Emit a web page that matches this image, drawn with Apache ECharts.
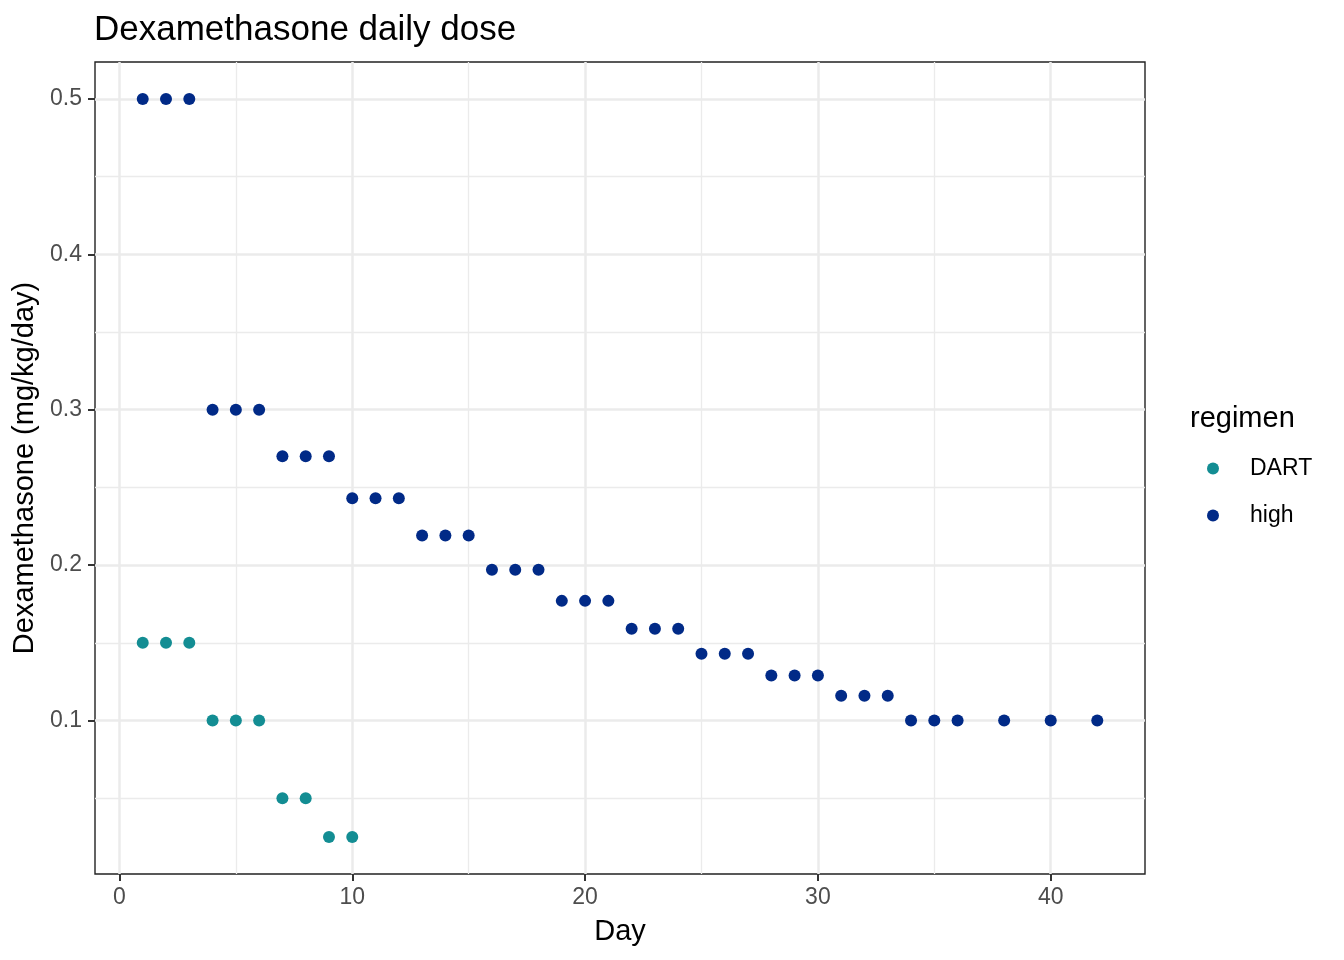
<!DOCTYPE html>
<html>
<head>
<meta charset="utf-8">
<script src="https://cdn.jsdelivr.net/npm/echarts@6/dist/echarts.min.js"></script>
<style>html,body{margin:0;padding:0;background:#fff}#c{width:1344px;height:960px}</style>
</head>
<body>
<div id="c"></div>
<script>
const titleText = 'Dexamethasone daily dose';
const xTitle = 'Day';
const yTitle = 'Dexamethasone (mg/kg/day)';
const legendTitle = 'regimen';
const seriesNames = ['DART', 'high'];
const seriesColors = ['#138d93', '#012a87'];

const dartDays = [1, 2, 3, 4, 5, 6, 7, 8, 9, 10];
const dartDose = [0.15, 0.15, 0.15, 0.1, 0.1, 0.1, 0.05, 0.05, 0.025, 0.025];

const highDays = [1, 2, 3, 4, 5, 6, 7, 8, 9, 10, 11, 12, 13, 14, 15, 16, 17, 18, 19, 20, 21, 22, 23, 24, 25, 26, 27, 28, 29, 30, 31, 32, 33, 34, 35, 36, 38, 40, 42];
const highDose = [0.5, 0.5, 0.5, 0.3, 0.3, 0.3, 0.27, 0.27, 0.27, 0.243, 0.243, 0.243, 0.219, 0.219, 0.219, 0.197, 0.197, 0.197, 0.177, 0.177, 0.177, 0.159, 0.159, 0.159, 0.143, 0.143, 0.143, 0.129, 0.129, 0.129, 0.116, 0.116, 0.116, 0.1, 0.1, 0.1, 0.1, 0.1, 0.1];

const xMajor = [0, 10, 20, 30, 40];
const xMinor = [5, 15, 25, 35];
const yMajor = [0.1, 0.2, 0.3, 0.4, 0.5];
const yMinor = [0.05, 0.15, 0.25, 0.35, 0.45];

const xRange = [-1.05, 44.05];
const yRange = [0.00125, 0.52375];

const font = 'Liberation Sans, Arial, Helvetica, sans-serif';

function pairs(xs, ys) { return xs.map((x, i) => [x, ys[i]]); }

const chart = echarts.init(document.getElementById('c'), null, {renderer: 'canvas'});
chart.setOption({
  animation: false,
  backgroundColor: '#ffffff',
  textStyle: {fontFamily: font},
  title: [
    {text: titleText, left: 89, top: 8, textStyle: {fontFamily: font, fontSize: 35, fontWeight: 'normal', color: '#000'}},
    {text: legendTitle, left: 1185, top: 399, textStyle: {fontFamily: font, fontSize: 29, fontWeight: 'normal', color: '#000'}}
  ],
  legend: {
    orient: 'vertical', left: 1207, top: 457, padding: 0,
    itemWidth: 12, itemHeight: 12, itemGap: 24, icon: 'circle',
    data: seriesNames,
    textStyle: {fontFamily: font, fontSize: 23, color: '#000', padding: [0, 0, 0, 26]}
  },
  grid: {left: 95, right: 199, top: 62, bottom: 86, show: true, borderColor: '#222222', borderWidth: 1.4, backgroundColor: 'transparent'},
  xAxis: [
    {
      type: 'value', min: xRange[0], max: xRange[1], gridIndex: 0,
      name: xTitle, nameLocation: 'middle', nameGap: 43,
      nameTextStyle: {fontFamily: font, fontSize: 29, color: '#000'},
      axisLine: {show: false, onZero: false},
      axisTick: {show: true, length: 7, lineStyle: {color: '#333', width: 2}, customValues: xMajor},
      axisLabel: {customValues: xMajor, fontFamily: font, fontSize: 23, color: '#4d4d4d', margin: 12},
      splitLine: {show: true, lineStyle: {color: '#ebebeb', width: 2.5}}
    },
    {
      type: 'value', min: xRange[0], max: xRange[1], gridIndex: 0, position: 'bottom',
      axisLine: {show: false, onZero: false},
      axisTick: {show: false, customValues: xMinor},
      axisLabel: {show: false, customValues: xMinor},
      splitLine: {show: true, lineStyle: {color: '#ebebeb', width: 1.3}}
    }
  ],
  yAxis: [
    {
      type: 'value', min: yRange[0], max: yRange[1], gridIndex: 0,
      name: yTitle, nameLocation: 'middle', nameGap: 56, nameRotate: 90,
      nameTextStyle: {fontFamily: font, fontSize: 29, color: '#000'},
      axisLine: {show: false, onZero: false},
      axisTick: {show: true, length: 7, lineStyle: {color: '#333', width: 2}, customValues: yMajor},
      axisLabel: {customValues: yMajor, fontFamily: font, fontSize: 23, color: '#4d4d4d', margin: 13,
        formatter: v => String(Math.round(v * 10) / 10)},
      splitLine: {show: true, lineStyle: {color: '#ebebeb', width: 2.5}}
    },
    {
      type: 'value', min: yRange[0], max: yRange[1], gridIndex: 0, position: 'left',
      axisLine: {show: false, onZero: false},
      axisTick: {show: false, customValues: yMinor},
      axisLabel: {show: false, customValues: yMinor},
      splitLine: {show: true, lineStyle: {color: '#ebebeb', width: 1.3}}
    }
  ],
  series: [
    {name: seriesNames[0], type: 'scatter', xAxisIndex: 0, yAxisIndex: 0, symbol: 'circle', symbolSize: 12,
      itemStyle: {color: seriesColors[0], opacity: 1}, data: pairs(dartDays, dartDose)},
    {name: seriesNames[1], type: 'scatter', xAxisIndex: 0, yAxisIndex: 0, symbol: 'circle', symbolSize: 12,
      itemStyle: {color: seriesColors[1], opacity: 1}, data: pairs(highDays, highDose)}
  ]
});
</script>
</body>
</html>
